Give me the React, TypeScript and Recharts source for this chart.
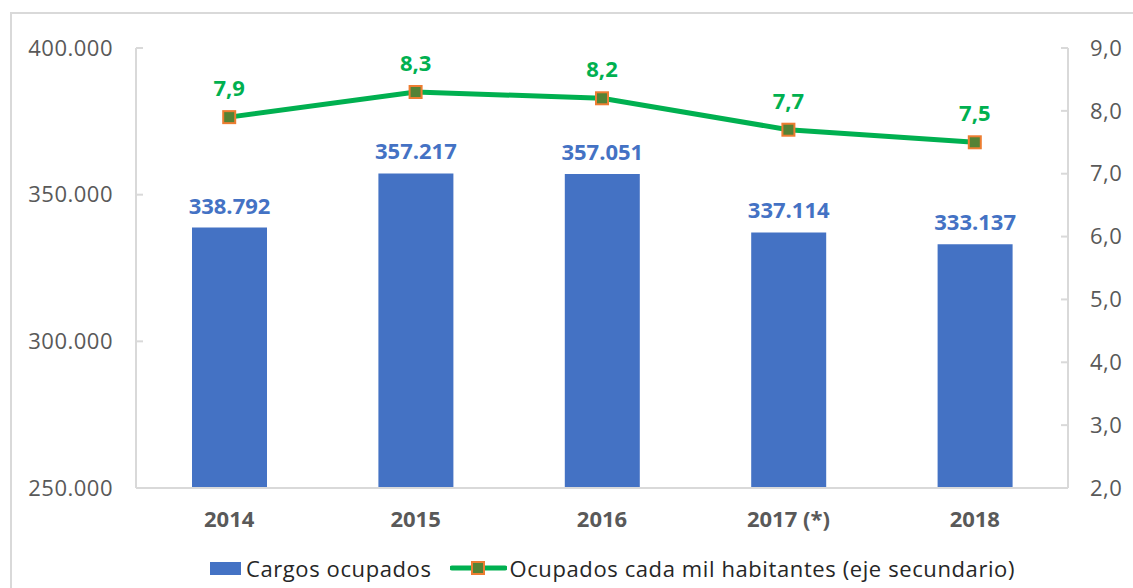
import {
  Bar,
  ComposedChart,
  LabelList,
  Legend,
  Line,
  XAxis,
  YAxis,
} from 'recharts';

const years = ['2014', '2015', '2016', '2017 (*)', '2018'];
const cargos = [338792, 357217, 357051, 337114, 333137];
const perMil = [7.9, 8.3, 8.2, 7.7, 7.5];
const leftTicks = [250000, 300000, 350000, 400000];
const rightTicks = [2, 3, 4, 5, 6, 7, 8, 9];

const BLUE = '#4472C4';
const GREEN = '#00B050';
const AXIS = '#D9D9D9';
const FONT = '"Open Sans", Lato, sans-serif';

// es-style numbers: dot for thousands, comma for decimals
const fmtThousands = (v: number) =>
  String(Math.round(v)).replace(/\B(?=(\d{3})+(?!\d))/g, '.');
const fmtDec = (v: number) => v.toFixed(1).replace('.', ',');

const data = years.map((year, i) => ({ year, cargos: cargos[i], perMil: perMil[i] }));

// tick marks point into the plot, labels sit outside
function LeftTick({ x, y, payload }: any) {
  return (
    <g>
      <line x1={x} x2={x + 7} y1={y} y2={y} stroke={AXIS} strokeWidth={2} />
      <text x={x - 23} y={y} dy="0.35em" textAnchor="end" fill="#595959" fontSize={22} letterSpacing={0.5} fontFamily={FONT}>
        {fmtThousands(payload.value)}
      </text>
    </g>
  );
}

function RightTick({ x, y, payload }: any) {
  return (
    <g>
      <line x1={x - 7} x2={x} y1={y} y2={y} stroke={AXIS} strokeWidth={2} />
      <text x={x + 22} y={y} dy="0.35em" textAnchor="start" fill="#595959" fontSize={22} letterSpacing={0.5} fontFamily={FONT}>
        {fmtDec(payload.value)}
      </text>
    </g>
  );
}

function SquareDot({ cx, cy, index }: any) {
  return (
    <rect
      key={`dot-${index}`}
      x={cx - 6}
      y={cy - 6}
      width={12}
      height={12}
      fill="#548235"
      stroke="#ED7D31"
      strokeWidth={2}
    />
  );
}

function ChartLegend() {
  return (
    <div
      style={{
        display: 'flex',
        justifyContent: 'center',
        alignItems: 'center',
        fontFamily: FONT,
        fontSize: 22,
        letterSpacing: 0.6,
        color: '#262626',
        paddingLeft: 92,
        paddingTop: 10,
      }}
    >
      <span style={{ display: 'inline-block', width: 31, height: 13, background: BLUE, marginRight: 5 }} />
      <span style={{ marginRight: 18 }}>Cargos ocupados</span>
      <svg width={57} height={14} style={{ marginRight: 3 }}>
        <line x1={2} x2={55} y1={7} y2={7} stroke={GREEN} strokeWidth={5} strokeLinecap="round" />
        <rect x={22} y={1} width={12} height={12} fill="#548235" stroke="#ED7D31" strokeWidth={2} />
      </svg>
      <span>Ocupados cada mil habitantes (eje secundario)</span>
    </div>
  );
}

export default function App() {
  return (
    <div style={{ position: 'absolute', left: 0, top: 0, width: 1133, height: 588, overflow: 'hidden', background: '#fff' }}>
      <div
        style={{
          position: 'absolute',
          left: 10,
          top: 12,
          width: 1200,
          height: 700,
          borderTop: `2px solid ${AXIS}`,
          borderLeft: `2px solid ${AXIS}`,
        }}
      />
      <div style={{ position: 'absolute', left: 0, top: 0 }}>
        <ComposedChart width={1133} height={588} data={data} margin={{ top: 48, right: 10, left: 10, bottom: 0 }}>
          <XAxis
            dataKey="year"
            axisLine={{ stroke: AXIS, strokeWidth: 2 }}
            tickLine={false}
            tickSize={0}
            tickMargin={23}
            height={55}
            tick={{ fill: '#595959', fontSize: 22, fontWeight: 700, fontFamily: FONT }}
          />
          <YAxis
            yAxisId="left"
            domain={[250000, 400000]}
            ticks={leftTicks}
            width={126}
            axisLine={{ stroke: AXIS, strokeWidth: 2 }}
            tickLine={false}
            tickSize={0}
            tickMargin={0}
            tick={<LeftTick />}
          />
          <YAxis
            yAxisId="right"
            orientation="right"
            domain={[2, 9]}
            ticks={rightTicks}
            width={55}
            axisLine={{ stroke: AXIS, strokeWidth: 2 }}
            tickLine={false}
            tickSize={0}
            tickMargin={0}
            tick={<RightTick />}
          />
          <Legend verticalAlign="bottom" height={45} content={<ChartLegend />} />
          <Bar yAxisId="left" dataKey="cargos" fill={BLUE} barSize={75} isAnimationActive={false}>
            <LabelList
              dataKey="cargos"
              position="top"
              offset={14}
              formatter={(v: any) => fmtThousands(Number(v))}
              style={{ fill: BLUE, fontSize: 22, fontWeight: 700, fontFamily: FONT }}
            />
          </Bar>
          <Line
            yAxisId="right"
            dataKey="perMil"
            stroke={GREEN}
            strokeWidth={5}
            dot={<SquareDot />}
            activeDot={false}
            isAnimationActive={false}
          >
            <LabelList
              dataKey="perMil"
              position="top"
              offset={21}
              formatter={(v: any) => fmtDec(Number(v))}
              style={{ fill: GREEN, fontSize: 22, fontWeight: 700, fontFamily: FONT }}
            />
          </Line>
        </ComposedChart>
      </div>
    </div>
  );
}
